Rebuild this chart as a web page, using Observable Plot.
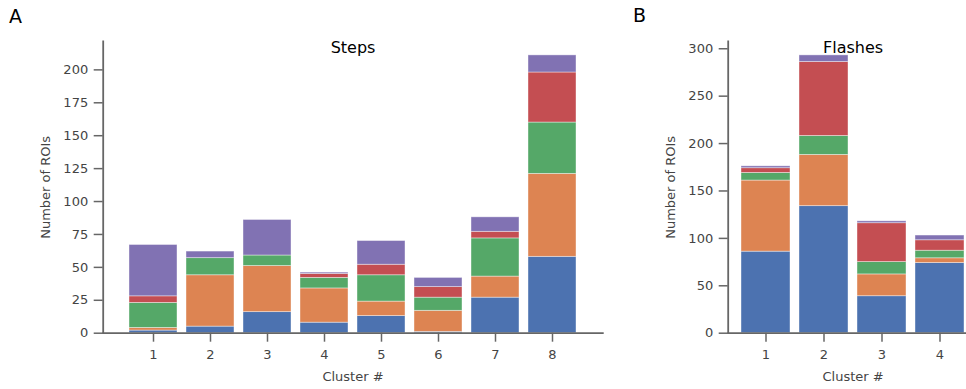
<!DOCTYPE html>
<html>
<head>
<meta charset="utf-8">
<script src="https://cdn.jsdelivr.net/npm/d3@7"></script>
<script src="https://cdn.jsdelivr.net/npm/@observablehq/plot@0.6"></script>
<style>
  html, body { margin: 0; padding: 0; background: #fff; overflow: hidden; }
  #wrap { position: relative; width: 966px; height: 389px; overflow: hidden; font-family: "DejaVu Sans", sans-serif; }
  .panel-letter { position: absolute; font-size: 19px; color: #000; }
  #a, #b { position: absolute; top: 0; }
  #a { left: 0px; width: 620px; }
  #b { left: 620px; width: 380px; }
  #a svg, #b svg { max-width: none !important; display: block; }
</style>
</head>
<body>
<div id="wrap">
  <div id="a"></div>
  <div id="b"></div>
  <div class="panel-letter" style="left:9px;top:5px;">A</div>
  <div class="panel-letter" style="left:633px;top:4px;">B</div>
</div>
<script>
// ---- data ----
const groups = ["Group 1", "Group 2", "Group 3", "Group 4", "Group 5"];
const groupColors = ["#4C72B0", "#DD8452", "#55A868", "#C44E52", "#8172B3"];

const stepsClusters = ["1", "2", "3", "4", "5", "6", "7", "8"];
const stepsG1 = [2, 5, 16, 8, 13, 1, 27, 58];
const stepsG2 = [2, 39, 35, 26, 11, 16, 16, 63];
const stepsG3 = [19, 13, 8, 8, 20, 10, 29, 39];
const stepsG4 = [5, 0, 0, 3, 8, 8, 5, 38];
const stepsG5 = [39, 5, 27, 1, 18, 7, 11, 13];
const stepsTicks = [0, 25, 50, 75, 100, 125, 150, 175, 200];

const flashClusters = ["1", "2", "3", "4"];
const flashG1 = [86, 134, 39, 74];
const flashG2 = [75, 54, 23, 5];
const flashG3 = [8, 20, 13, 8];
const flashG4 = [5, 78, 41, 11];
const flashG5 = [2, 7, 2, 5];
const flashTicks = [0, 50, 100, 150, 200, 250, 300];

function toRows(clusters, series) {
  const rows = [];
  clusters.forEach((c, i) => series.forEach((s, j) => rows.push({cluster: c, group: groups[j], value: s[i]})));
  return rows;
}

function panel({clusters, series, ticks, title, width, marginLeft, marginRight, paddingOuter}) {
  const rows = toRows(clusters, series);
  const maxTotal = d3.max(clusters, (c, i) => d3.sum(series, s => s[i]));
  return Plot.plot({
    width, height: 389,
    marginLeft, marginRight, marginTop: 41, marginBottom: 56.3,
    style: {fontFamily: "DejaVu Sans, sans-serif", fontSize: "13px", background: "transparent", overflow: "visible"},
    x: {type: "band", domain: clusters, paddingInner: 0.15, paddingOuter},
    y: {domain: [0, maxTotal * 1.05]},
    color: {domain: groups, range: groupColors},
    marks: [
      Plot.barY(rows, {x: "cluster", y: "value", fill: "group", stroke: "#fff", strokeOpacity: 0.5, strokeWidth: 0.8}),
      Plot.frame({anchor: "left", stroke: "#666", strokeWidth: 1.8}),
      Plot.frame({anchor: "bottom", stroke: "#666", strokeWidth: 1.8}),
      Plot.axisX({tickSize: 9, tickPadding: 8, stroke: "#666", strokeWidth: 1.5, fill: "#444", fontSize: 13,
        label: "Cluster #", labelAnchor: "center", labelOffset: 48, labelArrow: false}),
      Plot.axisY({ticks, tickSize: 9, tickPadding: 6, stroke: "#666", strokeWidth: 1.5, fill: "#444", fontSize: 13,
        label: "Number of ROIs", labelAnchor: "center", labelOffset: 62, labelArrow: false}),
      Plot.text([title], {frameAnchor: "top", dy: 0, fontSize: 16, fill: "#000", lineAnchor: "top"})
    ]
  });
}

const A = panel({
  clusters: stepsClusters,
  series: [stepsG1, stepsG2, stepsG3, stepsG4, stepsG5],
  ticks: stepsTicks, title: "Steps",
  width: 620, marginLeft: 102.7, marginRight: 17.7, paddingOuter: 0.3925
});
document.getElementById("a").appendChild(A);

const B = panel({
  clusters: flashClusters,
  series: [flashG1, flashG2, flashG3, flashG4, flashG5],
  ticks: flashTicks, title: "Flashes",
  width: 380, marginLeft: 107.7, marginRight: 22.6, paddingOuter: 0.1925
});
document.getElementById("b").appendChild(B);
</script>
</body>
</html>
